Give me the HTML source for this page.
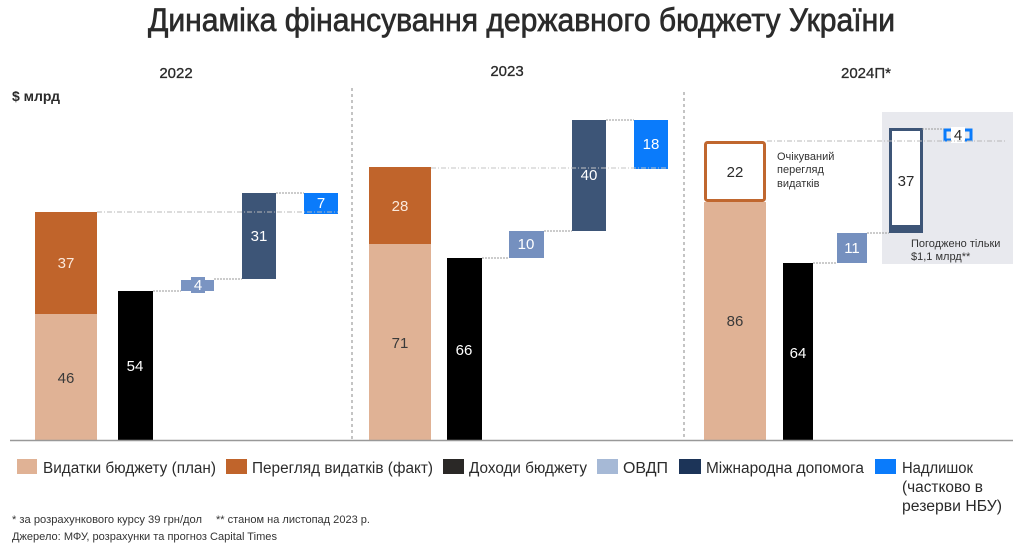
<!DOCTYPE html>
<html><head><meta charset="utf-8"><style>
html,body{margin:0;padding:0;background:#fff;}
svg{display:block;font-family:"Liberation Sans","DejaVu Sans",sans-serif;}
</style></head><body>
<svg width="1024" height="546" viewBox="0 0 1024 546" xmlns="http://www.w3.org/2000/svg">
<rect width="1024" height="546" fill="#fff"/>
<text x="148" y="31" font-size="32" fill="#2b2b2b" stroke="#2b2b2b" stroke-width="0.7" textLength="747" lengthAdjust="spacingAndGlyphs">Динаміка фінансування державного бюджету України</text>

<g font-size="15" fill="#2b2b2b" stroke="#2b2b2b" stroke-width="0.3" text-anchor="middle">
<text x="176" y="78">2022</text>
<text x="507" y="76">2023</text>
<text x="866" y="78">2024П*</text>
</g>
<text x="12" y="101" font-size="14" font-weight="bold" fill="#2b2b2b">$ млрд</text>

<!-- gray box 2024 -->
<rect x="882" y="112" width="131" height="152" fill="#e8e9ee"/>

<!-- dividers -->
<line x1="352" y1="88" x2="352" y2="440" stroke="#888" stroke-width="1" stroke-dasharray="3,3"/>
<line x1="684" y1="92" x2="684" y2="440" stroke="#888" stroke-width="1" stroke-dasharray="3,3"/>

<!-- 2022 bars -->
<rect x="35" y="314" width="62" height="126" fill="#e0b295"/>
<rect x="35" y="212" width="62" height="102" fill="#c0642b"/>
<rect x="118" y="291" width="35" height="149" fill="#000"/>
<rect x="181" y="280" width="33" height="11" fill="#7a94c2"/>
<rect x="191" y="277" width="14" height="16" fill="#7a94c2"/>
<rect x="242" y="193" width="34" height="86" fill="#3d5577"/>
<rect x="304" y="193" width="34" height="21" fill="#0a7bfb"/>

<!-- 2023 bars -->
<rect x="369" y="244" width="62" height="196" fill="#e0b295"/>
<rect x="369" y="167" width="62" height="77" fill="#c0642b"/>
<rect x="447" y="258" width="35" height="182" fill="#000"/>
<rect x="509" y="231" width="35" height="27" fill="#7590bf"/>
<rect x="572" y="120" width="34" height="111" fill="#3d5577"/>
<rect x="634" y="120" width="34" height="49" fill="#0a7bfb"/>

<!-- 2024 bars -->
<rect x="704" y="202" width="62" height="238" fill="#e0b295"/>
<rect x="705.5" y="142.5" width="59" height="58" rx="2" fill="#fff" stroke="#c0672f" stroke-width="3"/>
<rect x="783" y="263" width="30" height="177" fill="#000"/>
<rect x="837" y="233" width="30" height="30" fill="#7590bf"/>
<rect x="890.5" y="129.5" width="31" height="102" fill="#fff" stroke="#3d5577" stroke-width="3"/>
<rect x="889" y="225" width="34" height="8" fill="#3d5577"/>
<rect x="945" y="130" width="26" height="10" fill="none" stroke="#0a7bfb" stroke-width="3"/>
<rect x="951" y="127" width="14" height="16" fill="#fff"/>

<!-- connectors -->
<g stroke="#9a9a9a" stroke-width="1" fill="none">
<line x1="97" y1="212" x2="338" y2="212" stroke-dasharray="5,2,1,2" stroke="#b8b8b8"/>
<line x1="153" y1="291" x2="181" y2="291" stroke-dasharray="2,1"/>
<line x1="214" y1="279" x2="242" y2="279" stroke-dasharray="2,1"/>
<line x1="276" y1="193" x2="304" y2="193" stroke-dasharray="2,1"/>
<line x1="431" y1="168" x2="668" y2="168" stroke-dasharray="5,2,1,2" stroke="#c4c4c4"/>
<line x1="482" y1="258" x2="509" y2="258" stroke-dasharray="2,1"/>
<line x1="544" y1="231" x2="572" y2="231" stroke-dasharray="2,1"/>
<line x1="606" y1="120" x2="634" y2="120" stroke-dasharray="2,1"/>
<line x1="767" y1="141" x2="1005" y2="141" stroke-dasharray="5,2,1,2" stroke="#b8b8b8"/>
<line x1="813" y1="263" x2="837" y2="263" stroke-dasharray="2,1"/>
<line x1="867" y1="233" x2="889" y2="233" stroke-dasharray="2,1"/>
<line x1="922" y1="129" x2="944" y2="129" stroke-dasharray="2,1"/>
</g>

<!-- baseline -->
<line x1="10" y1="440.5" x2="1013" y2="440.5" stroke="#999" stroke-width="1.5"/>

<!-- bar labels -->
<g font-size="15" text-anchor="middle">
<text x="66" y="268" fill="#fbe9dc">37</text>
<text x="66" y="383" fill="#3a3a3a">46</text>
<text x="135" y="371" fill="#fff">54</text>
<text x="198" y="290" fill="#fff">4</text>
<text x="259" y="241" fill="#fff">31</text>
<text x="321" y="208" fill="#fff">7</text>

<text x="400" y="211" fill="#fbe9dc">28</text>
<text x="400" y="348" fill="#3a3a3a">71</text>
<text x="464" y="355" fill="#fff">66</text>
<text x="526" y="249" fill="#fff">10</text>
<text x="589" y="180" fill="#fff">40</text>
<text x="651" y="149" fill="#fff">18</text>

<text x="735" y="177" fill="#2b2b2b">22</text>
<text x="735" y="326" fill="#3a3a3a">86</text>
<text x="798" y="358" fill="#fff">64</text>
<text x="852" y="253" fill="#fff">11</text>
<text x="906" y="186" fill="#2b2b2b">37</text>
<text x="958" y="140" fill="#2b2b2b">4</text>
</g>

<!-- annotations -->
<g font-size="11" fill="#333">
<text x="777" y="160">Очікуваний</text>
<text x="777" y="173">перегляд</text>
<text x="777" y="187">видатків</text>
<text x="911" y="247">Погоджено тільки</text>
<text x="911" y="260">$1,1 млрд**</text>
</g>

<!-- legend -->
<rect x="17" y="459" width="20" height="15" fill="#e0b295"/>
<rect x="226" y="459" width="21" height="15" fill="#c0642b"/>
<rect x="443" y="459" width="21" height="15" fill="#2a2826"/>
<rect x="597" y="459" width="21" height="15" fill="#a6b9d6"/>
<rect x="679" y="459" width="22" height="15" fill="#1c3458"/>
<rect x="875" y="459" width="21" height="15" fill="#0a7bfb"/>
<g font-size="15.5" fill="#2b2b2b">
<text x="43" y="473" textLength="173" lengthAdjust="spacingAndGlyphs">Видатки бюджету (план)</text>
<text x="252" y="473" textLength="181" lengthAdjust="spacingAndGlyphs">Перегляд видатків (факт)</text>
<text x="469" y="473" textLength="118" lengthAdjust="spacingAndGlyphs">Доходи бюджету</text>
<text x="623" y="473" textLength="45" lengthAdjust="spacingAndGlyphs">ОВДП</text>
<text x="706" y="473" textLength="158" lengthAdjust="spacingAndGlyphs">Міжнародна допомога</text>
<text x="902" y="473" textLength="71" lengthAdjust="spacingAndGlyphs">Надлишок</text>
<text x="902" y="492" textLength="81" lengthAdjust="spacingAndGlyphs">(частково в</text>
<text x="902" y="511" textLength="100" lengthAdjust="spacingAndGlyphs">резерви НБУ)</text>
</g>

<!-- footnotes -->
<g font-size="11" fill="#333">
<text x="12" y="523" textLength="190" lengthAdjust="spacingAndGlyphs">* за розрахункового курсу 39 грн/дол</text>
<text x="216" y="523" textLength="154" lengthAdjust="spacingAndGlyphs">** станом на листопад 2023 р.</text>
<text x="12" y="540" textLength="265" lengthAdjust="spacingAndGlyphs">Джерело: МФУ, розрахунки та прогноз Capital Times</text>
</g>
</svg>
</body></html>
